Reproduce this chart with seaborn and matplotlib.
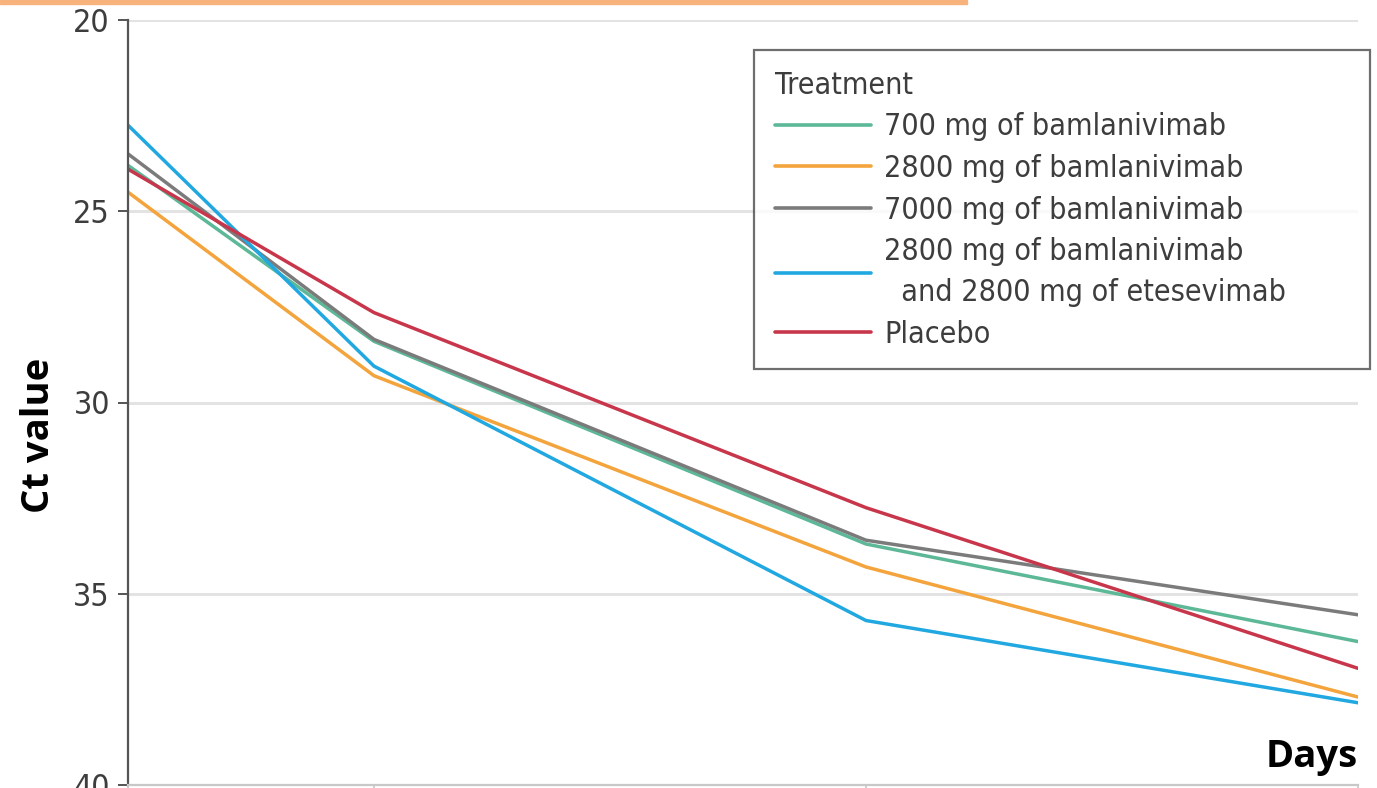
import matplotlib
matplotlib.use("Agg")
import matplotlib.pyplot as plt
import matplotlib.patches as mpatches
import pandas as pd
import seaborn as sns

# Study days at which viral load was sampled
days = [1, 3, 7, 11]

# Mean cycle-threshold (Ct) values per treatment arm
ct_700 = [23.8, 28.4, 33.7, 36.25]
ct_2800 = [24.5, 29.3, 34.3, 37.7]
ct_7000 = [23.5, 28.35, 33.6, 35.55]
ct_combo = [22.75, 29.05, 35.7, 37.85]
ct_placebo = [23.9, 27.65, 32.75, 36.95]

treatments = [
    "700 mg of bamlanivimab",
    "2800 mg of bamlanivimab",
    "7000 mg of bamlanivimab",
    "2800 mg of bamlanivimab\n  and 2800 mg of etesevimab",
    "Placebo",
]
series = [ct_700, ct_2800, ct_7000, ct_combo, ct_placebo]
colors = ["#5cb897", "#f3a43c", "#7b7b7b", "#21a8e0", "#c8364c"]

y_ticks = [20, 25, 30, 35, 40]

df = pd.DataFrame(
    [(d, v, t) for t, vals in zip(treatments, series) for d, v in zip(days, vals)],
    columns=["day", "ct", "treatment"],
)

sns.set_theme(style="white")
plt.rcParams["font.family"] = ["DejaVu Sans"]
plt.rcParams["font.stretch"] = "condensed"

fig = plt.figure(figsize=(13.77, 7.88), dpi=100)
ax = fig.add_axes([128 / 1377, 3 / 788, 1230 / 1377, 765 / 788])

sns.lineplot(
    data=df, x="day", y="ct", hue="treatment",
    hue_order=treatments, palette=dict(zip(treatments, colors)),
    linewidth=2.5, ax=ax, legend=True,
)

ax.set_xlim(days[0], days[-1])
ax.set_ylim(40, 20)
ax.set_yticks(y_ticks)
ax.set_xticks(days)
ax.set_xticklabels([])
ax.set_xlabel("")
ax.set_ylabel("")

# horizontal grid
for yv in y_ticks[:-1]:
    ax.axhline(yv, color="#e3e3e3", linewidth=2.2, zorder=0)

for side in ["top", "right"]:
    ax.spines[side].set_visible(False)
ax.spines["left"].set_color("#555555")
ax.spines["left"].set_linewidth(1.6)
ax.spines["bottom"].set_color("#c8c8c8")
ax.spines["bottom"].set_linewidth(1.6)

ax.tick_params(axis="y", which="both", left=True, length=7, width=1.4,
               color="#555555", labelsize=23, labelcolor="#3d3d3d", pad=6)
ax.tick_params(axis="x", bottom=True, length=6, color="#c8c8c8")

handles, labels = ax.get_legend_handles_labels()
leg = ax.legend(
    handles, labels, title="Treatment", loc="upper left", mode="expand",
    bbox_to_anchor=(754 / 1377, 1 - 371 / 788, 616 / 1377, 321 / 788),
    bbox_transform=fig.transFigure,
    fontsize=21.8, title_fontsize=21.8, frameon=True, fancybox=False,
    handlelength=3.2, handletextpad=0.42, labelspacing=0.42,
    borderpad=0.68, borderaxespad=0,
)
leg._legend_box.align = "left"
frame = leg.get_frame()
frame.set_edgecolor("#4a4a4a")
frame.set_linewidth(1.6)
frame.set_facecolor("white")
for txt in leg.get_texts():
    txt.set_color("#3d3d3d")
    txt.set_linespacing(1.5)
leg.get_title().set_color("#3d3d3d")
for ln in leg.get_lines():
    ln.set_linewidth(2.6)

# axis titles
fig.text(39 / 1377, 1 - 435 / 788, "Ct value", rotation=90, ha="center", va="center",
         fontsize=27.5, fontweight="bold", fontstretch="normal", color="black",
         family=["Open Sans", "DejaVu Sans"])
fig.text(1358 / 1377, 1 - 757 / 788, "Days", ha="right", va="center",
         fontsize=27.5, fontweight="bold", fontstretch="normal", color="black",
         family=["Open Sans", "DejaVu Sans"])

# orange accent strip along the top edge
fig.patches.append(mpatches.Rectangle((0, 1 - 4 / 788), 967 / 1377, 4 / 788,
                                      transform=fig.transFigure, color="#f8b27c",
                                      zorder=10))

fig.savefig("out.png", dpi=100)
